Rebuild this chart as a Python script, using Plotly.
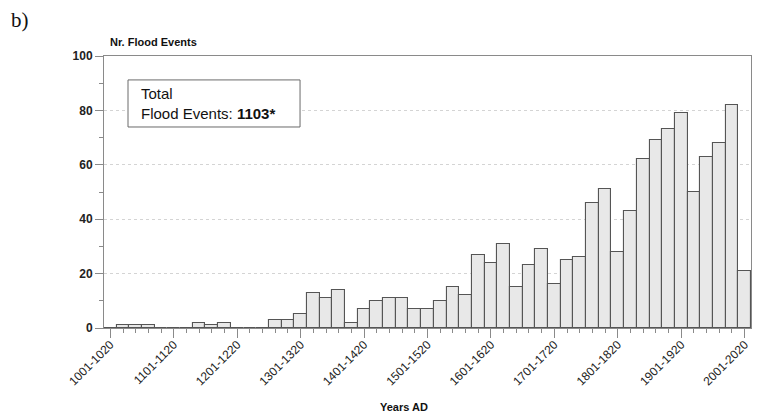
import plotly.graph_objects as go

categories = [
    "1001-1020", "1021-1040", "1041-1060", "1061-1080", "1081-1100",
    "1101-1120", "1121-1140", "1141-1160", "1161-1180", "1181-1200",
    "1201-1220", "1221-1240", "1241-1260", "1261-1280", "1281-1300",
    "1301-1320", "1321-1340", "1341-1360", "1361-1380", "1381-1400",
    "1401-1420", "1421-1440", "1441-1460", "1461-1480", "1481-1500",
    "1501-1520", "1521-1540", "1541-1560", "1561-1580", "1581-1600",
    "1601-1620", "1621-1640", "1641-1660", "1661-1680", "1681-1700",
    "1701-1720", "1721-1740", "1741-1760", "1761-1780", "1781-1800",
    "1801-1820", "1821-1840", "1841-1860", "1861-1880", "1881-1900",
    "1901-1920", "1921-1940", "1941-1960", "1961-1980", "1981-2000",
    "2001-2020",
]
flood_events = [
    0, 1, 1, 1, 0,
    0, 0, 2, 1, 2,
    0, 0, 0, 3, 3,
    5, 13, 11, 14, 2,
    7, 10, 11, 11, 7,
    7, 10, 15, 12, 27,
    24, 31, 15, 23, 29,
    16, 25, 26, 46, 51,
    28, 43, 62, 69, 73,
    79, 50, 63, 68, 82,
    21,
]
major_labels = [
    "1001-1020", "1101-1120", "1201-1220", "1301-1320", "1401-1420",
    "1501-1520", "1601-1620", "1701-1720", "1801-1820", "1901-1920",
    "2001-2020",
]
y_ticks = [0, 20, 40, 60, 80, 100]

FONT = "Liberation Sans, Arial, sans-serif"
AXIS_COL = "#8a8a8a"

fig = go.Figure()
fig.add_trace(go.Bar(
    x=categories, y=flood_events,
    marker=dict(color="#e8e8e8", line=dict(color="#555555", width=1.1)),
    showlegend=False, hoverinfo="x+y",
))
# invisible trace to activate the overlay axis carrying the long major ticks
fig.add_trace(go.Scatter(x=categories, y=flood_events, xaxis="x2", mode="markers",
                         marker=dict(opacity=0), showlegend=False, hoverinfo="skip"))

# the page body adds an 8px margin, so the figure is 8px smaller and offset
fig.update_layout(
    width=752, height=408,
    margin=dict(l=96, r=9, t=48, b=88, autoexpand=False),
    paper_bgcolor="white", plot_bgcolor="white",
    bargap=0,
    font=dict(family=FONT, color="#222"),
    xaxis=dict(
        type="category", categoryorder="array", categoryarray=categories,
        tickmode="array", tickvals=categories,
        ticktext=[c if c in major_labels else "" for c in categories],
        tickangle=-45, tickfont=dict(size=12, color="#222"),
        ticks="outside", ticklen=4, tickcolor=AXIS_COL, tickwidth=1,
        showline=True, linecolor=AXIS_COL, linewidth=1, mirror=True,
        showgrid=False, zeroline=False, range=[-0.5, len(categories) - 0.5],
        automargin=False,
    ),
    xaxis2=dict(
        type="category", overlaying="x", matches="x", side="bottom",
        categoryorder="array", categoryarray=categories,
        tickmode="array", tickvals=major_labels, ticktext=["" for _ in major_labels],
        ticks="outside", ticklen=9, tickcolor=AXIS_COL, tickwidth=1,
        showline=False, showgrid=False, zeroline=False,
        range=[-0.5, len(categories) - 0.5], automargin=False,
    ),
    yaxis=dict(
        range=[0, 100], tickmode="array", tickvals=y_ticks,
        tickfont=dict(size=12, color="#222", family=FONT, weight="bold"),
        ticks="outside", ticklen=8, tickcolor=AXIS_COL, tickwidth=1,
        minor=dict(dtick=10, ticks="outside", ticklen=4, tickcolor=AXIS_COL, showgrid=False),
        showline=True, linecolor=AXIS_COL, linewidth=1, mirror=True,
        showgrid=True, gridcolor="#d4d4d4", griddash="dot", gridwidth=1,
        zeroline=False, automargin=False,
    ),
    shapes=[dict(type="rect", xref="paper", yref="paper",
                 x0=0.0371, x1=0.303, y0=0.739, y1=0.912,
                 line=dict(color="#6a6a6a", width=1), fillcolor="white", layer="above")],
    annotations=[
        dict(text="Total<br>Flood Events: <b>1103*</b>", xref="paper", yref="paper",
             x=0.054, y=0.8255, xanchor="left", yanchor="middle", align="left",
             showarrow=False, font=dict(size=15, color="#111", family=FONT)),
        dict(text="<b>Nr. Flood Events</b>", xref="paper", yref="paper",
             x=0.006, y=1, yshift=6, xanchor="left", yanchor="bottom",
             showarrow=False, font=dict(size=11, color="#111", family=FONT)),
        dict(text="<b>Years AD</b>", xref="paper", yref="paper",
             x=0.4637, y=-0.29, xanchor="center", yanchor="middle",
             showarrow=False, font=dict(size=11, color="#111", family=FONT)),
        dict(text="b)", xref="paper", yref="paper",
             x=-0.147, y=1.132, xanchor="left", yanchor="middle",
             showarrow=False, font=dict(size=21, color="#111",
                                        family="Liberation Serif, Times New Roman, serif")),
    ],
)

fig.write_html("out.html")
